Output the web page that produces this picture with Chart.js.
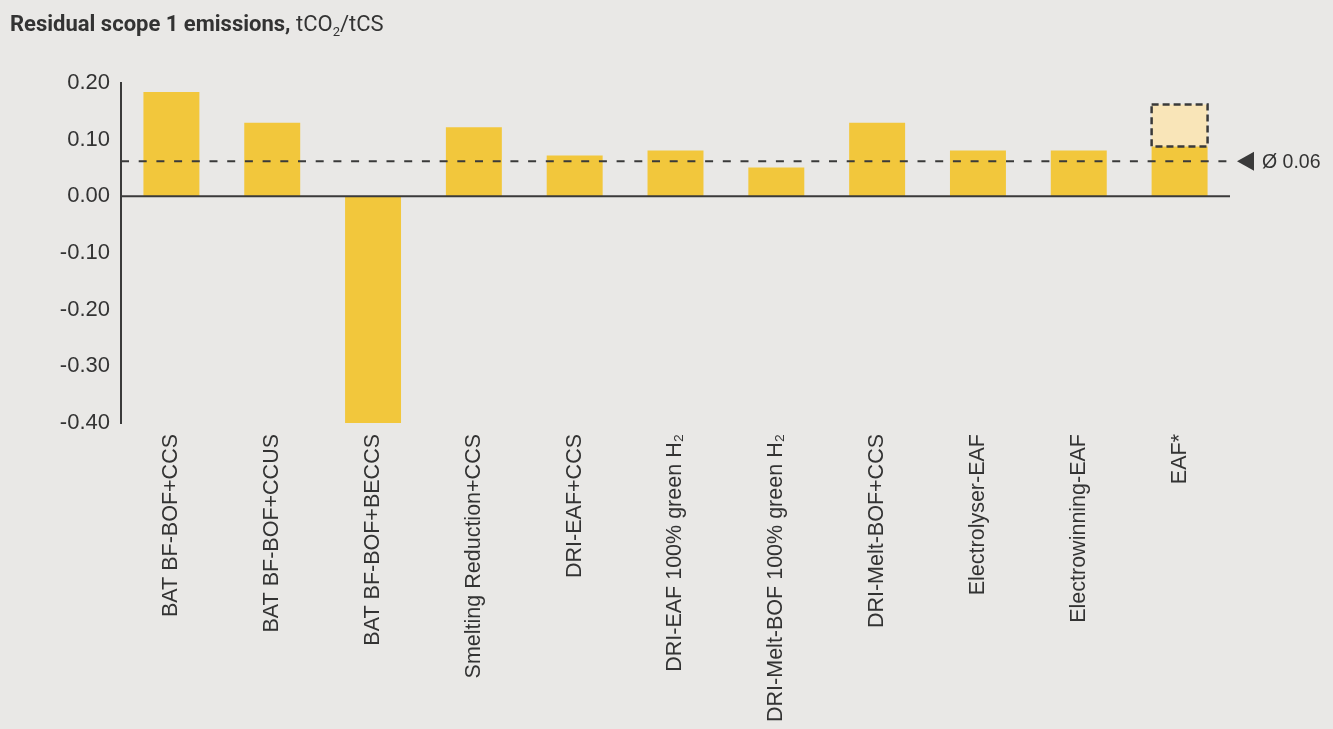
<!DOCTYPE html>
<html>
<head>
<meta charset="utf-8">
<script src="https://cdn.jsdelivr.net/npm/chart.js@4/dist/chart.umd.min.js"></script>
<style>
  html, body { margin: 0; padding: 0; background: #e9e8e6; }
  #wrap { position: relative; width: 1333px; height: 729px; }
  #title { position: absolute; left: 10px; top: 13px; line-height: 22px; font-family: "Roboto", "Liberation Sans", sans-serif; font-size: 22px; color: #333; white-space: nowrap; }
  #title b { font-weight: 700; }
  #title sub { font-size: 13px; vertical-align: -5px; line-height: 0; }
  canvas { position: absolute; left: 0; top: 0; }
</style>
</head>
<body>
<div id="wrap">
  <canvas id="c" width="1333" height="729"></canvas>
  <div id="title"><b>Residual scope 1 emissions,</b> tCO<sub>2</sub>/tCS</div>
</div>
<script>
const categories = [
  "BAT BF-BOF+CCS",
  "BAT BF-BOF+CCUS",
  "BAT BF-BOF+BECCS",
  "Smelting Reduction+CCS",
  "DRI-EAF+CCS",
  "DRI-EAF 100% green H\u2082",
  "DRI-Melt-BOF 100% green H\u2082",
  "DRI-Melt-BOF+CCS",
  "Electrolyser-EAF",
  "Electrowinning-EAF",
  "EAF*"
];
const emissions = [0.184, 0.13, -0.40, 0.122, 0.072, 0.081, 0.051, 0.13, 0.081, 0.081, 0.088];
const eafUpperRange = [null, null, null, null, null, null, null, null, null, null, [0.088, 0.162]];
const averageValue = 0.062;
const averageLabel = "\u00D8 0.06";
const yMin = -0.40, yMax = 0.20, yStep = 0.10;

const BAR = "#f2c73c";
const BAR_LIGHT = "#f9e5b8";
const DARK = "#3a3a3a";
const TEXT = "#333333";

const overlay = {
  id: "overlay",
  afterDatasetsDraw(chart) {
    const ctx = chart.ctx;
    const area = chart.chartArea;
    const y = chart.scales.y;
    const y0 = y.getPixelForValue(0);
    ctx.save();
    ctx.strokeStyle = DARK;
    ctx.lineWidth = 2;
    ctx.beginPath();
    ctx.moveTo(area.left, y0);
    ctx.lineTo(area.right, y0);
    ctx.stroke();

    const meta = chart.getDatasetMeta(1);
    meta.data.forEach((el, i) => {
      if (!eafUpperRange[i]) return;
      const p = el.getProps(["x", "y", "base", "width"], true);
      const l = p.x - p.width / 2, r = p.x + p.width / 2;
      const t = Math.min(p.y, p.base), b = Math.max(p.y, p.base);
      ctx.setLineDash([7, 4]);
      ctx.lineWidth = 2.5;
      ctx.strokeStyle = DARK;
      ctx.strokeRect(l, t, r - l, b - t);
    });

    const ya = y.getPixelForValue(averageValue);
    ctx.setLineDash([8, 9.7]);
    ctx.lineWidth = 2;
    ctx.strokeStyle = DARK;
    ctx.beginPath();
    ctx.moveTo(area.left, ya);
    ctx.lineTo(area.right + 3, ya);
    ctx.stroke();
    ctx.setLineDash([]);
    const tx = area.right + 7;
    ctx.fillStyle = DARK;
    ctx.beginPath();
    ctx.moveTo(tx, ya);
    ctx.lineTo(tx + 17, ya - 9.5);
    ctx.lineTo(tx + 17, ya + 9.5);
    ctx.closePath();
    ctx.fill();
    ctx.fillStyle = TEXT;
    ctx.font = '19.5px "Liberation Sans", Arial, sans-serif';
    ctx.textBaseline = "middle";
    ctx.textAlign = "left";
    ctx.fillText(averageLabel, tx + 25, ya + 1);
    ctx.restore();
  }
};

new Chart(document.getElementById("c"), {
  type: "bar",
  data: {
    labels: categories,
    datasets: [
      {
        data: emissions,
        backgroundColor: BAR,
        borderWidth: 0,
        barPercentage: 0.555,
        categoryPercentage: 1.0,
        order: 1
      },
      {
        data: eafUpperRange,
        backgroundColor: BAR_LIGHT,
        borderWidth: 0,
        grouped: false,
        barPercentage: 0.555,
        categoryPercentage: 1.0,
        order: 2
      }
    ]
  },
  options: {
    responsive: false,
    animation: false,
    layout: { padding: { top: 83, right: 103, left: 0, bottom: 0 } },
    plugins: { legend: { display: false }, tooltip: { enabled: false }, title: { display: false } },
    scales: {
      x: {
        grid: { display: false, drawTicks: false },
        border: { display: false },
        ticks: {
          color: TEXT,
          font: { family: '"Liberation Sans", Arial, sans-serif', size: 21.5 },
          minRotation: 90,
          maxRotation: 90,
          autoSkip: false,
          padding: 11
        },
        afterFit(scale) { scale.height = 306; }
      },
      y: {
        min: yMin,
        max: yMax,
        grid: { display: false, drawTicks: false },
        border: { display: true, color: DARK, width: 2 },
        ticks: {
          stepSize: yStep,
          color: TEXT,
          padding: 11,
          font: { family: '"Liberation Sans", Arial, sans-serif', size: 22 },
          callback: (v) => (Math.abs(v) < 1e-9 ? 0 : v).toFixed(2)
        },
        afterFit(scale) { scale.width = 121; }
      }
    }
  },
  plugins: [overlay]
});
</script>
</body>
</html>
